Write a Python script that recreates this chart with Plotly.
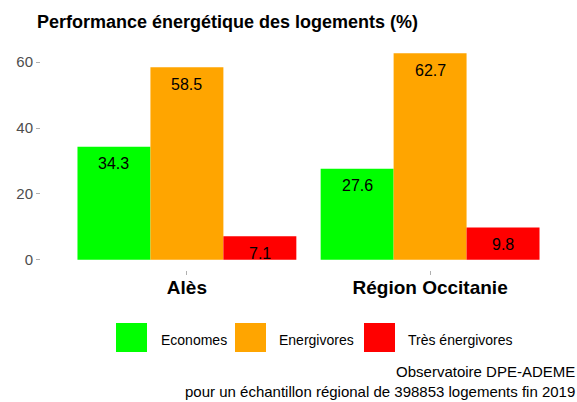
import plotly.graph_objects as go

# ── Données ─────────────────────────────────────────────
territoires = ["Alès", "Région Occitanie"]
classes = ["Economes", "Energivores", "Très énergivores"]
economes = [34.3, 27.6]
energivores = [58.5, 62.7]
tres_energivores = [7.1, 9.8]
couleurs = ["#00FF00", "#FFA500", "#FF0000"]
valeurs = [economes, energivores, tres_energivores]
source = ["Observatoire DPE-ADEME",
          "pour un échantillon régional de 398853 logements fin 2019"]

W, H = 577, 402
ML, MR, MT, MB = 41, 1, 43, 132
PW, PH = W - ML - MR, H - MT - MB
POLICE = "Liberation Sans, Arial, sans-serif"


def px(x):
    return (x - ML) / PW


def py(y):
    return (H - MB - y) / PH


fig = go.Figure()
for nom, vals, col in zip(classes, valeurs, couleurs):
    fig.add_trace(go.Bar(
        x=territoires, y=vals, name=nom,
        marker=dict(color=col, line=dict(width=0)),
        showlegend=False, hoverinfo="skip",
    ))

# étiquettes des valeurs, juste sous le haut des barres
largeur = 0.9 / 3
for i, vals in enumerate(valeurs):
    for j, v in enumerate(vals):
        fig.add_annotation(
            x=j + (i - 1) * largeur, y=v, xref="x", yref="y",
            text=f"{v:.1f}", showarrow=False, yshift=-17,
            font=dict(size=16, color="black"),
        )

# ── Légende façon ggplot (grandes cases) ───────────────
leg = [(116, 159), (235, 277), (364, 406)]
for (x0, xt), nom, col in zip(leg, classes, couleurs):
    fig.add_shape(type="rect", xref="paper", yref="paper",
                  x0=px(x0), x1=px(x0 + 31), y0=py(352), y1=py(323),
                  fillcolor=col, line=dict(width=0))
    fig.add_annotation(xref="paper", yref="paper", x=px(xt), y=py(340),
                       xanchor="left", yanchor="middle", text=nom,
                       showarrow=False, font=dict(size=14, color="black"))

# source en bas à droite
fig.add_annotation(
    xref="paper", yref="paper", x=px(576), y=py(401),
    xanchor="right", yanchor="bottom", align="right", showarrow=False,
    borderpad=0, text="<br>".join(source),
    font=dict(size=15, color="black"),
)

fig.update_layout(
    width=W, height=H,
    margin=dict(l=ML, r=MR, t=MT, b=MB),
    plot_bgcolor="white", paper_bgcolor="white",
    font=dict(family=POLICE),
    barmode="group", bargap=0.1, bargroupgap=0,
    showlegend=False,
    title=dict(text="<b>Performance énergétique des logements (%)</b>",
               x=37 / W, xanchor="left",
               y=1 - 22 / H, yanchor="middle",
               font=dict(size=18, color="black")),
    xaxis=dict(range=[-0.6, 1.6], showgrid=False, zeroline=False,
               ticks="outside", ticklen=4, tickcolor="#B0B0B0",
               ticklabelstandoff=-4,
               tickfont=dict(size=19, color="black"),
               tickvals=territoires,
               ticktext=[f"<b>{t}</b>" for t in territoires]),
    yaxis=dict(range=[-3.135, 65.835], showgrid=False, zeroline=False,
               tickvals=[0, 20, 40, 60], ticks="outside", ticklen=4,
               tickcolor="#B0B0B0", tickfont=dict(size=15, color="#4D4D4D")),
)

fig.write_html("out.html", config={"displayModeBar": False},
               post_script="document.body.style.margin='0';")
